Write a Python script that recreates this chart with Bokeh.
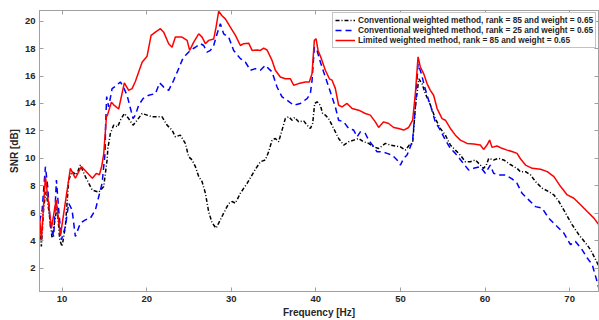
from bokeh.plotting import figure
from bokeh.models import LinearAxis, Range1d, FixedTicker, Legend, LegendItem
from bokeh.embed import file_html
from bokeh.resources import INLINE

# ---------------- data ----------------
x_ticks = [10, 20, 30, 40, 50, 60, 70]
y_ticks = [2, 4, 6, 8, 10, 12, 14, 16, 18, 20]

label_black = "Conventional weighted method, rank = 85 and weight = 0.65"
label_blue = "Conventional weighted method, rank = 25 and weight = 0.65"
label_red = "Limited weighted method, rank = 85 and weight = 0.65"

black_freq = [7.35, 7.55, 7.83, 8.11, 8.42, 8.82, 9.13, 9.41, 9.72, 10.00,
              10.39, 10.78, 11.18, 11.69, 12.16, 12.75, 13.55, 14.33, 14.92, 15.32,
              15.41, 15.71, 16.10, 16.57, 16.89, 17.36, 17.87, 18.39, 18.87, 19.46,
              20.05, 20.64, 21.23, 21.82, 22.41, 23.00, 23.39, 23.98, 24.57, 24.96,
              25.37, 25.76, 26.15, 26.55, 26.94, 27.33, 27.73, 28.20, 28.51, 29.10,
              29.69, 30.09, 30.48, 31.08, 31.87, 32.85, 33.44, 34.03, 34.42, 34.82,
              35.21, 35.60, 36.00, 36.39, 36.79, 37.19, 37.49, 37.97, 38.56, 38.96,
              39.35, 39.62, 39.86, 40.14, 40.53, 40.80, 41.12, 41.51, 42.10, 42.69,
              43.29, 43.88, 44.47, 45.06, 45.65, 46.24, 46.83, 47.42, 48.22, 48.81,
              49.40, 49.99, 50.58, 51.05, 51.44, 51.76, 52.17, 52.55, 52.94, 53.53,
              54.12, 54.71, 55.31, 55.90, 56.49, 57.08, 57.67, 58.26, 58.86, 59.44,
              59.83, 60.15, 60.43, 61.01, 61.60, 62.20, 62.99, 63.78, 64.17, 64.79,
              65.38, 65.97, 66.76, 67.55, 68.14, 68.73, 69.52, 70.31, 71.10, 71.89,
              72.48, 73.07, 73.46]
black_snr = [5.03, 3.58, 6.48, 7.57, 6.24, 4.18, 5.39, 6.48, 4.06, 3.58,
             5.03, 8.42, 9.03, 8.79, 9.51, 8.67, 7.7, 7.53, 7.94, 9.88,
             10.73, 11.82, 12.42, 12.3, 12.78, 13.27, 12.9, 12.42, 12.78, 13.27,
             13.15, 13.03, 13.03, 13.03, 12.42, 12.06, 11.57, 11.69, 11.09, 10.12,
             9.88, 9.39, 8.67, 8.3, 7.46, 6.1, 5.3, 4.91, 5.27, 6.0,
             6.7, 6.85, 6.73, 7.46, 8.18, 9.2, 9.75, 9.88, 10.48, 11.33,
             11.45, 11.21, 12.06, 12.9, 13.03, 12.78, 12.98, 12.66, 12.73, 12.42,
             12.18, 12.54, 14.0, 14.12, 13.87, 13.27, 13.15, 12.9, 12.18, 11.45,
             10.97, 11.21, 11.33, 11.45, 11.21, 11.09, 10.84, 10.72, 11.09, 10.97,
             10.9, 10.84, 10.6, 10.97, 11.09, 13.75, 15.8, 15.45, 14.72, 13.9,
             12.9, 12.18, 11.69, 10.97, 10.6, 10.24, 9.75, 9.75, 9.88, 9.51,
             9.27, 9.51, 10.0, 9.88, 10.0, 9.88, 9.55, 9.27, 9.03, 9.03,
             8.79, 8.3, 7.82, 7.57, 7.33, 6.85, 6.0, 5.15, 4.42, 3.82,
             3.33, 2.61, 2.12]

blue_freq = [7.35, 7.64, 8.03, 8.30, 8.62, 9.01, 9.33, 9.60, 9.92, 10.39,
             10.78, 11.18, 11.57, 12.16, 12.75, 13.35, 13.94, 14.33, 14.73, 14.92,
             15.08, 15.15, 15.27, 15.51, 15.91, 16.30, 16.89, 17.21, 17.68, 18.39,
             18.66, 19.05, 19.57, 20.24, 21.03, 21.54, 22.01, 22.60, 23.19, 23.78,
             24.22, 24.57, 25.17, 25.76, 26.35, 26.74, 27.14, 27.53, 27.92, 28.32,
             28.71, 29.10, 29.69, 30.28, 31.08, 31.67, 32.26, 32.85, 33.44, 34.03,
             34.42, 34.82, 35.41, 36.00, 36.60, 37.38, 38.17, 38.96, 39.35, 39.55,
             39.82, 40.14, 40.53, 40.92, 41.32, 41.91, 42.30, 42.69, 43.29, 43.88,
             44.47, 44.87, 45.26, 45.85, 46.24, 46.83, 47.23, 47.83, 48.42, 49.01,
             49.60, 49.99, 50.38, 50.78, 51.17, 51.44, 51.76, 52.08, 52.47, 52.86,
             53.33, 53.53, 54.12, 54.71, 55.31, 55.90, 56.49, 57.28, 58.06, 58.65,
             59.44, 60.03, 60.62, 61.01, 61.60, 62.39, 63.19, 63.78, 64.37, 65.16,
             65.95, 66.74, 67.52, 68.52, 69.31, 70.10, 70.69, 71.48, 72.08, 72.67,
             73.18, 73.46]
blue_snr = [5.4, 6.24, 9.39, 7.94, 5.03, 4.3, 8.42, 6.24, 4.06, 5.03,
            6.73, 6.24, 4.3, 5.27, 5.51, 5.64, 6.24, 7.2, 8.18, 9.39,
            10.36, 12.5, 14.5, 13.75, 15.08, 15.25, 15.57, 15.25, 14.6, 12.9,
            13.15, 13.87, 14.36, 14.6, 14.72, 15.5, 15.2, 14.96, 15.69, 16.54,
            17.2, 17.5, 17.87, 18.1, 18.36, 18.23, 17.75, 17.87, 18.23, 19.08,
            19.81, 19.08, 18.84, 17.87, 17.27, 17.02, 16.42, 16.54, 16.42, 16.78,
            16.54, 16.3, 15.2, 14.48, 14.24, 13.87, 14.0, 14.36, 14.72, 15.69,
            18.1, 17.87, 17.02, 16.3, 15.57, 14.48, 13.75, 12.78, 12.66, 12.18,
            12.06, 11.57, 11.93, 11.81, 11.33, 10.84, 10.48, 10.48, 10.36, 10.24,
            9.88, 9.51, 10.0, 10.24, 10.84, 11.33, 13.75, 16.9, 16.18, 15.2,
            14.24, 13.9, 12.66, 12.06, 11.33, 10.73, 10.36, 9.75, 9.15, 9.27,
            9.39, 8.91, 9.51, 8.91, 8.79, 8.79, 8.5, 8.18, 7.45, 6.97,
            6.48, 6.37, 5.64, 5.03, 4.55, 3.7, 3.94, 3.33, 2.73, 2.24,
            1.15, 0.5]

red_freq = [7.35, 7.55, 8.03, 8.74, 9.29, 9.80, 10.98, 11.57, 12.28, 13.58,
            14.05, 14.41, 14.68, 14.92, 15.24, 15.39, 15.83, 16.10, 16.69, 17.36,
            17.87, 18.27, 18.66, 19.46, 20.05, 20.52, 21.03, 21.62, 22.01, 22.60,
            23.00, 23.39, 24.18, 24.78, 25.08, 25.56, 26.15, 26.55, 26.94, 27.33,
            27.92, 28.20, 28.51, 28.91, 29.30, 29.89, 30.49, 31.08, 31.47, 32.06,
            32.46, 33.05, 33.44, 33.83, 34.23, 34.82, 35.21, 35.80, 36.39, 36.99,
            37.38, 37.97, 38.76, 39.23, 39.55, 39.82, 40.02, 40.26, 40.65, 41.12,
            41.60, 41.91, 42.30, 42.69, 43.10, 43.69, 44.28, 45.06, 45.85, 46.44,
            47.03, 47.42, 48.01, 48.60, 49.20, 49.79, 50.38, 50.97, 51.44, 51.76,
            52.08, 52.35, 52.74, 53.14, 53.53, 53.92, 54.33, 54.92, 55.31, 55.90,
            56.49, 57.08, 57.87, 58.65, 59.44, 59.83, 60.23, 60.54, 60.82, 61.41,
            62.00, 62.60, 63.19, 63.78, 64.20, 64.79, 65.58, 66.56, 67.35, 68.14,
            68.93, 69.72, 70.50, 71.29, 72.08, 72.87, 73.46]
red_snr = [5.65, 4.05, 8.67, 4.9, 6.97, 4.35, 9.27, 8.55, 9.4, 8.55,
           8.9, 8.8, 9.4, 10.3, 13.0, 13.2, 14.1, 13.9, 13.6, 15.5,
           14.96, 15.08, 15.6, 17.0, 17.45, 18.96, 19.2, 19.45, 19.2, 18.36,
           18.1, 18.84, 18.84, 18.6, 17.87, 18.47, 19.08, 18.84, 18.36, 18.6,
           18.7, 19.56, 20.72, 20.4, 20.17, 19.56, 18.96, 18.23, 18.36, 18.4,
           17.87, 17.9, 17.87, 18.04, 17.9, 17.14, 16.42, 15.93, 15.8, 15.8,
           15.33, 15.45, 15.57, 15.57, 16.18, 18.6, 18.72, 17.87, 17.27, 16.42,
           15.8, 15.7, 15.1, 13.87, 13.75, 14.0, 13.63, 13.51, 13.27, 13.15,
           12.66, 12.25, 12.66, 12.54, 12.25, 12.18, 12.06, 12.25, 12.78, 14.72,
           17.4, 16.66, 16.18, 15.45, 14.96, 14.6, 13.63, 12.9, 12.78, 12.18,
           11.69, 11.33, 11.09, 11.04, 10.97, 10.65, 10.97, 11.33, 10.8, 10.9,
           10.73, 10.6, 10.5, 10.36, 9.95, 9.51, 9.27, 9.2, 9.03, 8.67,
           7.94, 7.33, 7.09, 6.61, 6.12, 5.64, 5.15]

# ---------------- style ----------------
FONT = "Liberation Sans"
AX_COL = "#a0a0a0"
TXT_COL = "#262626"

p = figure(width=599, height=320, output_backend="svg", toolbar_location=None,
           x_range=Range1d(7.33, 73.41), y_range=Range1d(0.29, 20.78),
           min_border_left=39, min_border_right=1, min_border_top=10,
           min_border_bottom=28, background_fill_color="white",
           border_fill_color="white")
p.outline_line_color = AX_COL
p.grid.visible = False


def style_axis(ax, ticks, show_labels=True):
    ax.ticker = FixedTicker(ticks=ticks)
    ax.major_tick_in = 4
    ax.major_tick_out = 0
    ax.minor_tick_line_color = None
    ax.axis_line_color = AX_COL
    ax.major_tick_line_color = AX_COL
    ax.major_label_text_font = FONT
    ax.major_label_text_font_style = "bold"
    ax.major_label_text_color = TXT_COL
    if show_labels:
        ax.major_label_text_font_size = "9.5px"
    else:
        ax.major_label_text_font_size = "0px"
        ax.major_label_standoff = 0
        ax.major_label_overrides = {t: "" for t in ticks}
    ax.axis_label_text_font = FONT
    ax.axis_label_text_font_style = "bold"
    ax.axis_label_text_font_size = "10px"
    ax.axis_label_text_color = TXT_COL


xa = p.xaxis[0]
ya = p.yaxis[0]
style_axis(xa, x_ticks)
style_axis(ya, y_ticks)
xa.axis_label = "Frequency [Hz]"
ya.axis_label = "SNR [dB]"
xa.major_label_standoff = 4
xa.axis_label_standoff = 2
ya.major_label_standoff = 4
ya.axis_label_standoff = 2

top_ax = LinearAxis()
style_axis(top_ax, x_ticks, show_labels=False)
p.add_layout(top_ax, "above")
right_ax = LinearAxis()
style_axis(right_ax, y_ticks, show_labels=False)
p.add_layout(right_ax, "right")

r_black = p.line(black_freq, black_snr, line_color="black", line_width=1.5,
                 line_dash="4 2 1 2")
r_blue = p.line(blue_freq, blue_snr, line_color="#0000ff", line_width=1.5,
                line_dash="6 4")
r_red = p.line(red_freq, red_snr, line_color="#ff0000", line_width=1.5)

legend = Legend(items=[LegendItem(label=label_black, renderers=[r_black]),
                       LegendItem(label=label_blue, renderers=[r_blue]),
                       LegendItem(label=label_red, renderers=[r_red])],
                location=(293, 243))
legend.label_text_font = FONT
legend.label_text_font_style = "bold"
legend.label_text_font_size = "8.3px"
legend.label_text_color = TXT_COL
legend.glyph_width = 20
legend.glyph_height = 10
legend.label_height = 10
legend.label_standoff = 3
legend.spacing = 0
legend.padding = 2
legend.margin = 0
legend.border_line_color = "#888888"
legend.border_line_width = 1
legend.background_fill_color = "white"
legend.background_fill_alpha = 1.0
p.add_layout(legend)

open("out.html", "w").write(file_html(p, INLINE))
